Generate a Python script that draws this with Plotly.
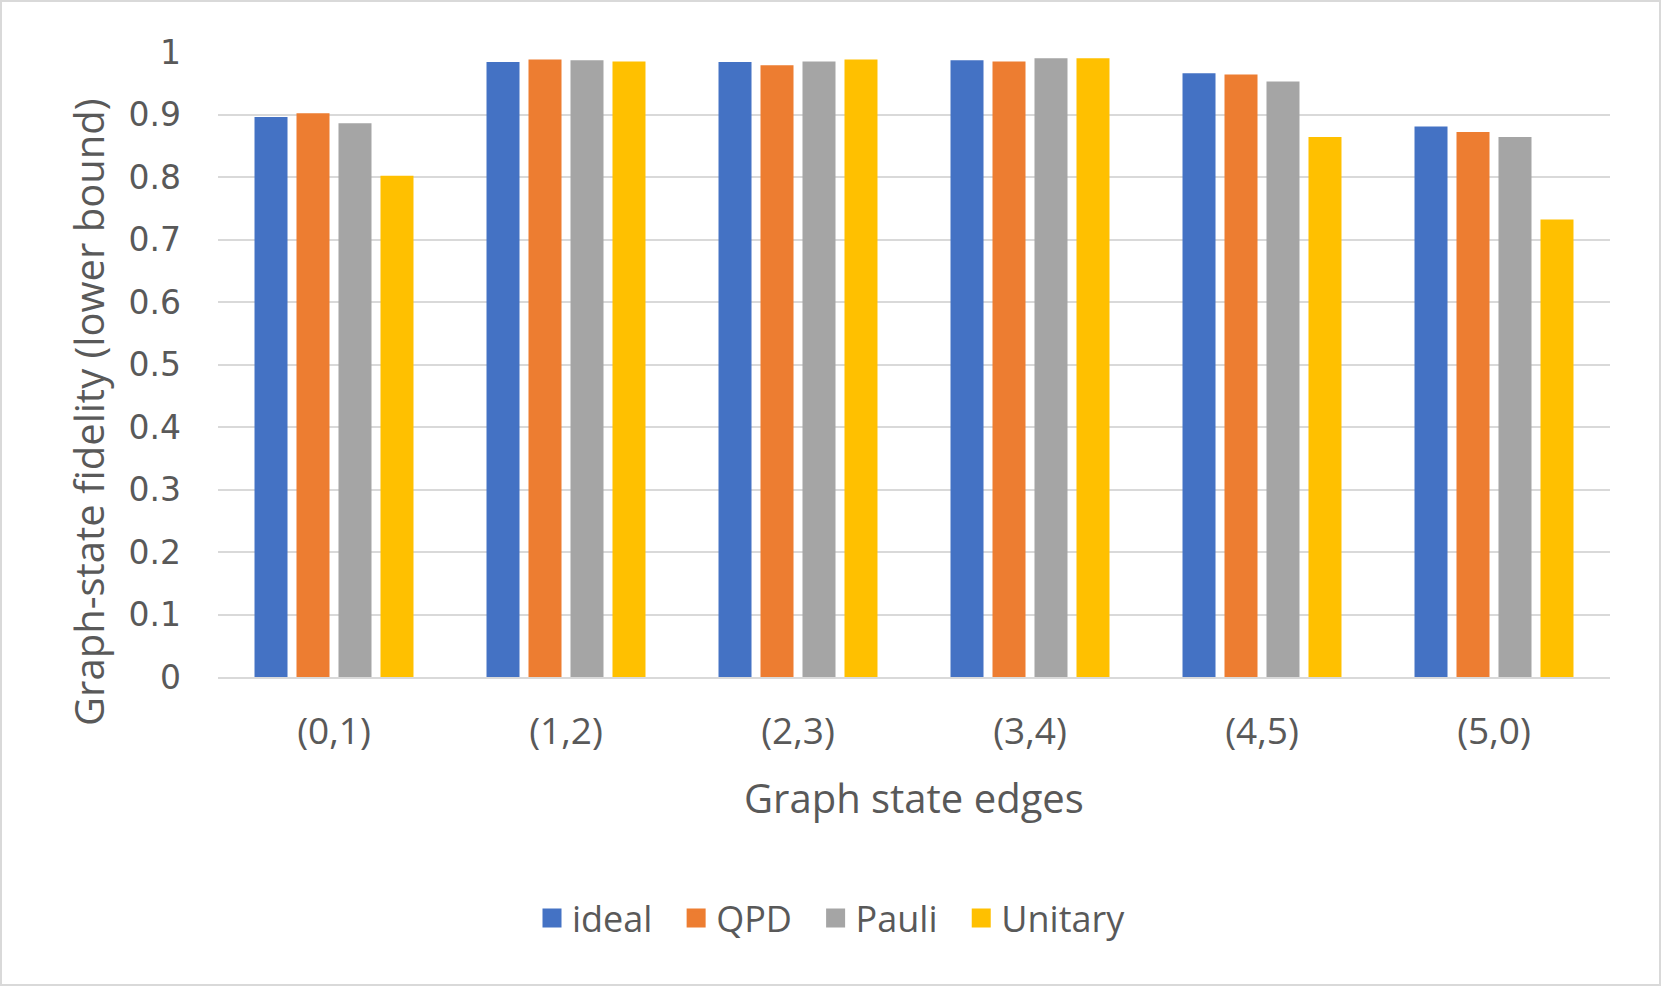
import plotly.graph_objects as go

categories = ["(0,1)", "(1,2)", "(2,3)", "(3,4)", "(4,5)", "(5,0)"]
ideal = [0.896, 0.984, 0.984, 0.987, 0.966, 0.881]
qpd = [0.902, 0.988, 0.979, 0.985, 0.964, 0.872]
pauli = [0.886, 0.987, 0.985, 0.990, 0.953, 0.864]
unitary = [0.802, 0.985, 0.988, 0.990, 0.864, 0.732]
series_names = ["ideal", "QPD", "Pauli", "Unitary"]
colors = ["#4472C4", "#ED7D31", "#A5A5A5", "#FFC000"]

W, H = 1662, 987
L, R, T, B = 218, 52, 52, 310
PW, PH = W - L - R, H - T - B

def px(x):
    return (x - L) / PW

def py(y):
    return 1 - (y - T) / PH

fig = go.Figure()
for name, vals, c in zip(series_names, [ideal, qpd, pauli, unitary], colors):
    fig.add_trace(go.Bar(x=categories, y=vals, name=name, marker_color=c,
                         marker_line_width=0, showlegend=False))
# legend entries with larger square swatches
for name, c in zip(series_names, colors):
    fig.add_trace(go.Scatter(x=[None], y=[None], mode="markers",
                             name=name + "\u00a0\u00a0",
                             marker=dict(symbol="square", size=16, color=c,
                                         line=dict(color=c, width=3)),
                             showlegend=True))

txt = "#595959"
fig.update_layout(
    width=W, height=H,
    margin=dict(l=L, r=R, t=T, b=B, pad=0),
    paper_bgcolor="white", plot_bgcolor="white",
    barmode="group", bargap=0.276, bargroupgap=0.214,
    font=dict(family="Open Sans", color=txt),
    showlegend=True,
    legend=dict(orientation="h", x=px(532), y=py(918), xanchor="left", yanchor="middle",
                font=dict(size=36, color=txt, family="Open Sans"),
                itemwidth=30, traceorder="normal", itemsizing="trace"),
    xaxis=dict(showgrid=False, showline=True, linecolor="#D9D9D9", linewidth=2,
               ticks="", tickfont=dict(size=37, color=txt, family="Open Sans"),
               ticklabelstandoff=21),
    yaxis=dict(range=[0, 1], dtick=0.1, showgrid=True, gridcolor="#D9D9D9", gridwidth=2,
               zeroline=False, showline=False, ticks="",
               tickfont=dict(size=33, color=txt, family="DejaVu Sans"),
               ticklabelstandoff=36),
    annotations=[
        dict(text="Graph-state fidelity (lower bound)", textangle=-90, x=px(88), y=py(412),
             xref="paper", yref="paper", showarrow=False, xanchor="center", yanchor="middle",
             font=dict(size=40, color=txt, family="Open Sans")),
        dict(text="Graph state edges", x=px(914), y=py(797), xref="paper", yref="paper",
             showarrow=False, xanchor="center", yanchor="middle",
             font=dict(size=40, color=txt, family="Open Sans")),
    ],
    shapes=[dict(type="rect", xref="paper", yref="paper",
                 x0=px(1), x1=px(W - 2), y0=py(H - 2), y1=py(1),
                 line=dict(color="#D9D9D9", width=2), fillcolor="rgba(0,0,0,0)")],
)

fig.write_html("out.html")
